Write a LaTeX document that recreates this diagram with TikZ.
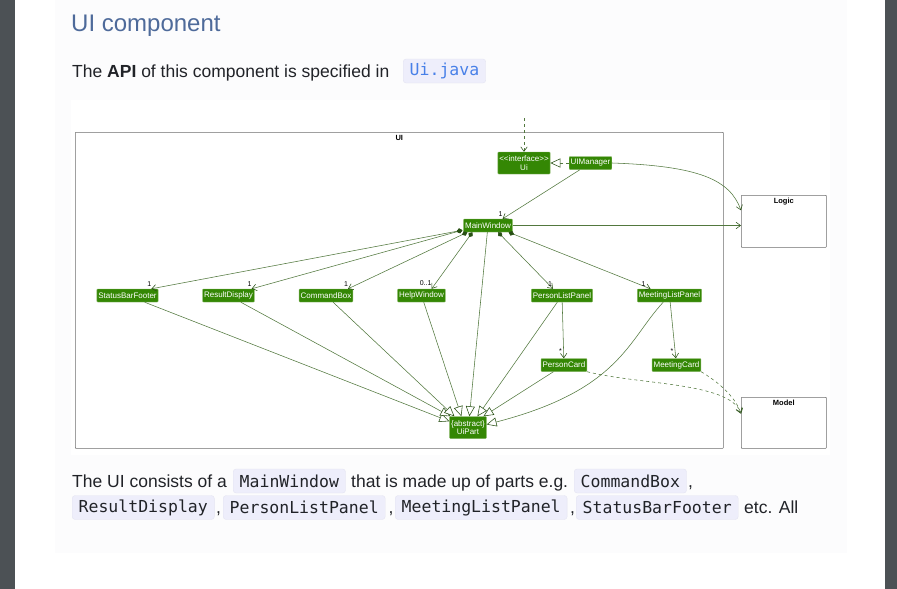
\documentclass[tikz,border=0pt]{standalone}
\usepackage{fontspec}
\setmainfont{Liberation Sans}
\setmonofont{DejaVu Sans Mono}
\usetikzlibrary{arrows.meta,calc,positioning}
\definecolor{uigreen}{RGB}{52,135,4}
\definecolor{uiborder}{RGB}{130,180,95}
\definecolor{linegreen}{RGB}{82,120,62}
\definecolor{tipgreen}{RGB}{40,80,20}
\definecolor{headblue}{RGB}{78,106,154}
\definecolor{codebg}{RGB}{238,238,251}
\definecolor{codeline}{RGB}{228,228,242}
\definecolor{linkblue}{RGB}{72,128,232}
\definecolor{bodytext}{RGB}{33,35,40}
\definecolor{sidegray}{RGB}{76,81,85}
\definecolor{panelbg}{RGB}{252,252,253}
\definecolor{framegray}{RGB}{110,110,110}

\tikzset{
  cls/.style={draw=uiborder, fill=uigreen, text=white, rounded corners=0.8pt,
    font=\fontsize{8}{8.5}\selectfont, inner xsep=1.5pt, inner ysep=0pt,
    minimum height=13pt, align=center, line width=0.4pt},
  pkgbox/.style={draw=framegray, line width=0.6pt, rounded corners=0.6pt},
  pkglabel/.style={font=\fontsize{7.5}{8}\selectfont\bfseries, inner sep=0pt},
  mult/.style={font=\fontsize{7}{7.5}\selectfont, inner sep=0.5pt},
  assoc/.style={draw=linegreen, line width=0.55pt,
    -{Straight Barb[length=4.5pt,width=6.5pt,color=tipgreen]}},
  compo/.style={assoc,
    {Diamond[length=6pt,width=5pt,color=tipgreen]}-{Straight Barb[length=4.5pt,width=6.5pt,color=tipgreen]}},
  inherit/.style={draw=linegreen, line width=0.55pt,
    -{Triangle[open,length=10pt,width=9pt,color=tipgreen,fill=white]}},
  depend/.style={assoc, dash pattern=on 3pt off 3pt},
  realize/.style={inherit, dash pattern=on 3pt off 3pt},
  codebox/.style={fill=codebg, draw=codeline, rounded corners=3pt,
    font=\fontsize{16.5}{18}\ttfamily, inner xsep=6.5pt, inner ysep=0pt,
    minimum height=24pt, text=bodytext},
  bodytxt/.style={font=\fontsize{17.5}{20}\selectfont, text=bodytext,
    inner sep=0pt, anchor=base west},
}

\begin{document}
\begin{tikzpicture}[x=1pt,y=-1pt]
    % 页面背景
    \useasboundingbox (0,0) rectangle (897,589);
    \fill[white] (0,0) rectangle (897,589);
    \fill[sidegray] (0,0) rectangle (15,589);
    \fill[sidegray] (885,0) rectangle (897,589);
    \fill[panelbg] (55,0) rectangle (847,553);
    \fill[white] (71,100) rectangle (830,455);

    % 标题与说明文字
    \node[bodytxt, font=\fontsize{24}{28}\selectfont, text=headblue] (title) at (71,31) {UI component};
    \node[bodytxt] (apitxt) at (72,77) {The \textbf{API} of this component is specified in};
    \node[codebox, anchor=west, text=linkblue] (apicode) at (403,71) {Ui.java};

    % 包框 UI / Logic / Model
    \node[pkgbox, minimum width=648, minimum height=316, anchor=north west] (uiframe) at (75,132) {};
    \node[pkglabel, below=3pt of uiframe.north] (uilabel) {UI};
    \node[pkgbox, minimum width=85, minimum height=52, anchor=north west] (logic) at (741,195) {};
    \node[pkglabel, below=3pt of logic.north] (logiclabel) {Logic};
    \node[pkgbox, minimum width=85, minimum height=51, anchor=north west] (model) at (741,397) {};
    \node[pkglabel, below=3pt of model.north] (modellabel) {Model};

    % 类节点
    \node[cls, minimum height=22pt] (ui) at (524,163) {{<}{<}interface{>}{>}\\Ui};
    \node[cls] (uimanager) at (590.5,163) {UIManager};
    \node[cls] (mainwindow) at (488,225.5) {MainWindow};
    \node[cls] (statusbar) at (127.5,295.5) {StatusBarFooter};
    \node[cls] (resultdisplay) at (228.5,295.5) {ResultDisplay};
    \node[cls] (commandbox) at (326,295.5) {CommandBox};
    \node[cls] (helpwindow) at (421.5,295.5) {HelpWindow};
    \node[cls] (personlist) at (562,295.5) {PersonListPanel};
    \node[cls] (meetinglist) at (669.5,295.5) {MeetingListPanel};
    \node[cls] (personcard) at (564,365) {PersonCard};
    \node[cls] (meetingcard) at (676.5,365) {MeetingCard};
    \node[cls, minimum height=22pt] (uipart) at (468,427.5) {\{abstract\}\\UiPart};

    % 入口、实现与关联
    \coordinate (entry) at (524,118);
    \draw[depend] (entry) -- (ui);
    \draw[realize] (uimanager) -- (ui);
    \draw[assoc] (uimanager) -- ($(mainwindow.north east)+(-10,0)$)
        node[mult, pos=1, above=2pt, xshift=-2pt] {1};
    \draw[assoc] (uimanager.east) .. controls (700,166) and (730,180) .. ($(logic.west)+(0,-11)$);
    \draw[assoc] (mainwindow) -- (mainwindow -| logic.west);

    % MainWindow 的组成部分
    \draw[compo] ($(mainwindow.south west)+(-1,-2)$) -- ($(statusbar.north east)+(-7,0)$)
        node[mult, pos=1, above=2pt, xshift=-2pt] {1};
    \draw[compo] ($(mainwindow.south west)+(-1,-2)$) -- ($(resultdisplay.north east)+(-3,0)$)
        node[mult, pos=1, above=2pt, xshift=-2pt] {1};
    \draw[compo] ($(mainwindow.south west)+(4,0)$) -- ($(commandbox.north east)+(-5,0)$)
        node[mult, pos=1, above=2pt, xshift=-2pt] {1};
    \draw[compo] ($(mainwindow.south west)+(9,0)$) -- ($(helpwindow.north east)+(-14,0)$)
        node[mult, pos=1, above=2pt, xshift=-6pt] {0..1};
    \draw[compo] ($(mainwindow.south)+(10,0)$) -- ($(personlist.north)+(-9,0)$)
        node[mult, pos=1, above=2pt, xshift=-3pt] {1};
    \draw[compo] ($(mainwindow.south east)+(-4,0)$) -- ($(meetinglist.north)+(-19,0)$)
        node[mult, pos=1, above=2pt, xshift=-7pt] {1};

    % 列表到卡片
    \draw[assoc] (personlist) -- (personcard) node[mult, pos=0.88, left=1pt] {*};
    \draw[assoc] (meetinglist) -- (meetingcard) node[mult, pos=0.88, left=1pt] {*};

    % 继承 UiPart
    \foreach \src/\dx/\dy in {statusbar/0/5, resultdisplay/1/0, commandbox/5/0, helpwindow/12/0,
        mainwindow/20/0, personlist/28/0, personcard/34/0}
        \draw[inherit] (\src) -- ($(uipart.north west)+(\dx,\dy)$);
    \draw[inherit] (meetinglist) .. controls (628,340) and (620,390) .. ($(uipart.east)+(0,-3)$);

    % 依赖 Model
    \draw[depend] (personcard.south east) .. controls (640,385) and (728,382) .. ($(model.west)+(0,-10)$);
    \draw[depend] (meetingcard.south east) .. controls (715,380) and (735,395) .. ($(model.west)+(0,-9)$);

    % 正文
    \node[bodytxt] (uitxt1) at (72,487) {The UI consists of a};
    \node[codebox, anchor=west] (mwcode) at (233,481) {MainWindow};
    \node[bodytxt] (uitxt2) at (351,487) {that is made up of parts e.g.};
    \node[codebox, anchor=west] (cbcode) at (574,481) {CommandBox};
    \node[bodytxt] (comma1) at (688,487) {,};
    \node[codebox, anchor=west] (rdcode) at (72,507.5) {ResultDisplay};
    \node[bodytxt] (comma2) at (216,513) {,};
    \node[codebox, anchor=west] (plcode) at (223,507.5) {PersonListPanel};
    \node[bodytxt] (comma3) at (388.5,513) {,};
    \node[codebox, anchor=west] (mlcode) at (395,507.5) {MeetingListPanel};
    \node[bodytxt] (comma4) at (570,513) {,};
    \node[codebox, anchor=west] (sbcode) at (576,507.5) {StatusBarFooter};
    \node[bodytxt] (uitxt3) at (744,513) {etc. All};
\end{tikzpicture}
\end{document}
